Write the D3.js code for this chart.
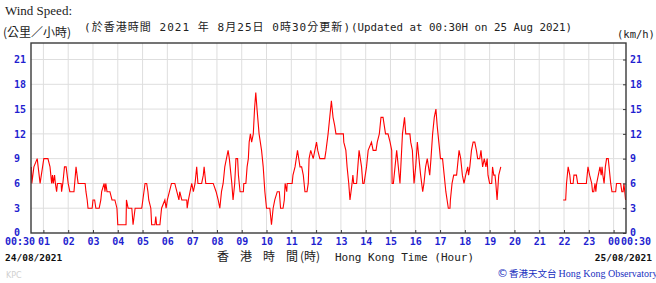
<!DOCTYPE html>
<html><head><meta charset="utf-8">
<script src="https://cdn.jsdelivr.net/npm/d3@7/dist/d3.min.js"></script>
<style>html,body{margin:0;padding:0;background:#fff;}svg{display:block;}</style>
</head><body>
<svg id="chart" width="656" height="283"></svg>
<script>
// minutes after 00:00 on 24/08/2021 (HKT); null speed breaks the line (missing data)
const times = [31,32,37,45,52,58,61,71,76,80,82,84,87,89,92,94,103,104,107,111,115,120,124,134,139,144,161,163,166,168,178,180,184,187,195,199,201,207,209,211,214,221,226,233,238,240,260,261,265,274,277,282,298,306,310,313,315,320,322,330,332,334,342,346,354,357,360,365,370,378,383,388,390,395,407,408,411,415,419,423,427,431,434,443,447,449,453,471,478,483,487,491,495,499,503,507,510,514,516,519,523,526,530,532,536,544,545,550,553,556,558,561,564,568,571,574,577,582,588,592,596,600,608,610,612,616,620,626,631,634,640,643,645,649,650,662,664,669,675,681,685,689,693,698,701,703,707,713,717,721,724,729,741,744,749,753,757,761,765,768,786,787,792,795,799,802,807,809,811,818,821,824,830,833,836,842,846,854,858,865,868,873,877,882,885,888,894,899,903,904,907,911,915,919,923,929,934,937,947,949,953,957,961,965,969,973,978,981,985,989,992,995,998,1002,1006,1010,1013,1017,1021,1026,1030,1034,1040,1044,1045,1049,1053,1060,1062,1066,1070,1074,1078,1082,1087,1089,1092,1096,1100,1104,1108,1111,1116,1119,1123,1127,1131,1134,1136,1140,1145,1147,1150,1153,1155,1158,1162,1167,1240,1318,1324,1326,1330,1334,1336,1342,1344,1350,1353,1374,1378,1382,1387,1389,1392,1395,1397,1399,1407,1410,1412,1414,1417,1420,1423,1427,1429,1433,1436,1445,1447,1457,1460,1463,1465,1469];
const speeds = [8,6,8,9,6,8,9,9,8,6,7,6,7,6,5,6,6,5,6,8,8,6,5,5,8,6,6,5,4,3,3,4,4,3,3,4,5,6,5,6,5,5,4,4,3,1,1,4,3,3,1,3,3,6,6,5,4,3,1,1,2,1,1,3,4,3,4,5,6,6,5,4,5,4,4,3,4,5,6,5,6,8,6,6,7,8,6,6,5,4,3,5,6,8,9,10,9,7,6,4,6,9,9,7,5,5,6,6,8,9,11,12,11,12,15,17,15,12,10,8,5,3,3,2,1,3,4,5,5,3,3,4,6,5,6,6,7,8,10,8,8,7,5,5,6,9,10,9,10,11,10,9,9,10,12,14,16,14,13,12,12,11,10,8,6,4,6,7,6,6,8,10,8,6,6,8,10,11,10,10,11,12,14,14,13,12,12,11,10,6,6,8,10,8,6,12,14,12,12,11,10,6,8,11,9,7,5,6,8,9,8,7,9,12,14,15,13,11,9,9,7,5,3,3,4,6,7,7,8,10,9,7,6,7,8,7,8,10,11,11,10,9,9,10,8,9,8,9,7,6,6,8,7,7,6,4,7,8,null,4,4,6,8,7,6,6,7,7,6,6,8,7,6,5,5,6,5,6,8,7,8,7,6,8,9,9,8,6,5,5,6,6,5,5,6,4];
const hourTicks = [60,120,180,240,300,360,420,480,540,600,660,720,780,840,900,960,1020,1080,1140,1200,1260,1320,1380,1440];
const hourLabels = ["01","02","03","04","05","06","07","08","09","10","11","12","13","14","15","16","17","18","19","20","21","22","23","00"];
const speedTicks = [0,3,6,9,12,15,18,21];
const startLabel = "00:30", endLabel = "00:30";
const startDate = "24/08/2021", endDate = "25/08/2021";

const svg = d3.select("#chart");
const L = 31, R = 626, T = 43, B = 233;
const x = d3.scaleLinear().domain([30, 1470]).range([L, R]);
const y = d3.scaleLinear().domain([0, 23]).range([B, T]);
const blue = "#1f1fd0";
const mono = "'DejaVu Sans Mono', monospace";
const cjk = "'Noto Sans CJK TC', 'Noto Sans CJK SC', sans-serif";

// grid
const g = svg.append("g");
g.selectAll("line.vg").data(hourTicks).join("line")
  .attr("x1", d => x(d)).attr("x2", d => x(d)).attr("y1", T).attr("y2", B)
  .attr("stroke", "#dedede").attr("stroke-width", 1);
g.selectAll("line.hg").data(speedTicks.filter(d => d > 0)).join("line")
  .attr("x1", L).attr("x2", R).attr("y1", d => y(d)).attr("y2", d => y(d))
  .attr("stroke", "#dedede").attr("stroke-width", 1);

// data line
const data = times.map((t, i) => ({t, v: speeds[i]}));
svg.append("path").datum(data)
  .attr("fill", "none").attr("stroke", "#ff0000").attr("stroke-width", 1.1)
  .attr("d", d3.line().defined(d => d.v != null).x(d => x(d.t)).y(d => y(d.v)));

// frame
svg.append("rect").attr("x", L).attr("y", T).attr("width", R - L).attr("height", B - T)
  .attr("fill", "none").attr("stroke", "#3a3a3a").attr("stroke-width", 1.4);

// bottom axis
const xa = svg.append("g").attr("transform", `translate(0,${B})`)
  .call(d3.axisBottom(x).tickValues(hourTicks).tickSize(-3).tickPadding(5)
    .tickFormat((d, i) => hourLabels[i]));
xa.select(".domain").remove();
xa.selectAll(".tick line").attr("stroke", "#3a3a3a");
xa.selectAll(".tick text").attr("fill", blue).style("font", `bold 10px ${mono}`);

// left axis
const ya = svg.append("g").attr("transform", `translate(${L},0)`)
  .call(d3.axisLeft(y).tickValues(speedTicks).tickSize(0).tickFormat(d3.format("d")));
ya.select(".domain").remove();
ya.selectAll(".tick text").attr("x", -17).attr("text-anchor", "start")
  .attr("dy", d => d === 0 ? "0.2em" : "0.32em")
  .attr("fill", blue).style("font", `bold 10px ${mono}`);

// right axis
const ra = svg.append("g").attr("transform", `translate(${R},0)`)
  .call(d3.axisRight(y).tickValues(speedTicks).tickSize(-3).tickPadding(4).tickFormat(d3.format("d")));
ra.select(".domain").remove();
ra.selectAll(".tick line").attr("stroke", "#3a3a3a");
ra.selectAll(".tick text").attr("fill", blue)
  .attr("dy", d => d === 0 ? "0.2em" : "0.32em")
  .style("font", `bold 10px ${mono}`);

// start / end time labels
svg.append("text").attr("x", L + 4).attr("y", 245).attr("text-anchor", "end")
  .attr("fill", blue).style("font", `bold 10px ${mono}`).text(startLabel);
svg.append("text").attr("x", R - 5).attr("y", 245).attr("text-anchor", "start")
  .attr("fill", blue).style("font", `bold 10px ${mono}`).text(endLabel);

// dates
svg.append("text").attr("x", 5).attr("y", 261).attr("fill", "#111")
  .style("font", `bold 9.5px ${mono}`).text(startDate);
svg.append("text").attr("x", 652).attr("y", 261).attr("text-anchor", "end").attr("fill", "#111")
  .style("font", `bold 9.5px ${mono}`).text(endDate);

// x title
svg.append("text").attr("x", "217 240 263 286").attr("y", 261).attr("fill", "#222")
  .style("font", `12px ${cjk}`).text("香港時間");
svg.append("text").attr("x", 300).attr("y", 261).attr("fill", "#222")
  .style("font", `12px ${cjk}`).text("(時)");
svg.append("text").attr("x", 335).attr("y", 261).attr("fill", "#222")
  .style("font", `11px ${mono}`).text("Hong Kong Time (Hour)");

// titles
svg.append("text").attr("x", 5).attr("y", 15).attr("fill", "#222")
  .style("font", "13px 'Liberation Serif', serif").text("Wind Speed:");
svg.append("text").attr("x", 3).attr("y", 37).attr("fill", "#222")
  .style("font", `12px ${cjk}`).text("(公里／小時)");
svg.append("text").attr("x", 84).attr("y", 31).attr("fill", "#222")
  .attr("textLength", 266).attr("lengthAdjust", "spacing")
  .style("font", `11px ${mono}, ${cjk}`).text("(於香港時間 2021 年 8月25日 0時30分更新)");
svg.append("text").attr("x", 351).attr("y", 31).attr("fill", "#222")
  .attr("textLength", 221).attr("lengthAdjust", "spacingAndGlyphs")
  .style("font", `11px ${mono}`).text("(Updated at 00:30H on 25 Aug 2021)");
svg.append("text").attr("x", 617).attr("y", 38).attr("fill", "#222")
  .style("font", `10.5px ${mono}`).text("(km/h)");

// footer
svg.append("text").attr("x", 6).attr("y", 278).attr("fill", "#d0d0d0")
  .style("font", "8px 'DejaVu Sans', sans-serif").text("KPC");
const cr = svg.append("text").attr("x", 497).attr("y", 277).attr("fill", "#2030c0");
cr.append("tspan").style("font", "11px 'DejaVu Sans', sans-serif").text("©");
cr.append("tspan").attr("dx", 1).style("font", `9.5px ${cjk}`).text("香港天文台");
cr.append("tspan").attr("dx", 2).style("font", "10px 'Liberation Serif', serif").text("Hong Kong Observatory");
</script>
</body></html>
